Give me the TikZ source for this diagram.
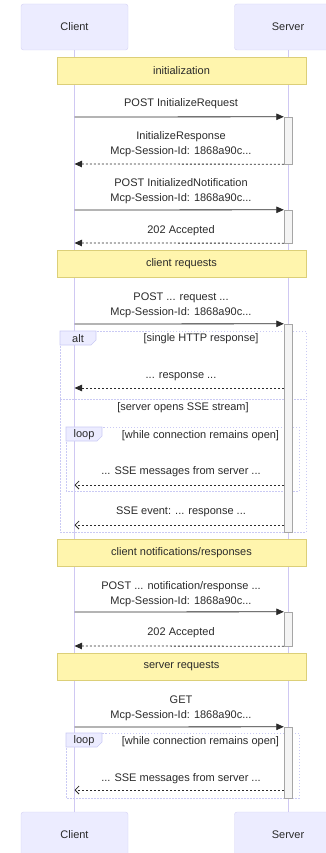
\documentclass[tikz,border=0pt]{standalone}
\usepackage{fontspec}
\setmainfont{Liberation Sans}
\usetikzlibrary{positioning,calc,arrows.meta}

\definecolor{actorfill}{HTML}{ECECFF}
\definecolor{actorline}{HTML}{D3D0F4}
\definecolor{lifeline}{HTML}{CFC8F2}
\definecolor{notefill}{HTML}{FFF5AD}
\definecolor{noteline}{HTML}{DCCF78}
\definecolor{actfill}{HTML}{F4F4F4}
\definecolor{actline}{HTML}{A6A6A6}
\definecolor{frameline}{HTML}{CACAF4}
\definecolor{txt}{HTML}{2A2A2A}

\tikzset{
  actor/.style={draw=actorline, fill=actorfill, rounded corners=2.5pt, minimum width=107pt, minimum height=46pt, font=\fontsize{11}{13}\selectfont},
  notebox/.style={draw=noteline, fill=notefill, minimum width=249pt, minimum height=27pt, font=\fontsize{11}{13}\selectfont},
  actbox/.style={draw=actline, fill=actfill, minimum width=8pt, inner sep=0pt},
  lbl/.style={align=center, inner sep=0pt, font=\fontsize{11}{15}\selectfont},
  req/.style={draw=txt, line width=0.8pt, -{Triangle[length=7.5pt,width=6.5pt]}},
  resp/.style={draw=txt, line width=0.8pt, dash pattern=on 2pt off 2pt, -{Triangle[length=7.5pt,width=6.5pt]}},
  async/.style={draw=txt, line width=0.8pt, dash pattern=on 2pt off 2pt, -{Straight Barb[length=4pt,width=8pt]}},
  frame/.style={draw=frameline, line width=0.8pt, dash pattern=on 1.5pt off 1.5pt},
  tab/.style={draw=frameline, fill=actorfill, line width=0.6pt},
}

\begin{document}
\begin{tikzpicture}[x=1pt, y=-1pt, text=txt]
  \useasboundingbox (0,0) rectangle (326,853);

  % actors
  \node[actor] (client) at (74.5,27) {Client};
  \node[actor] (server) at (288,27) {Server};
  \node[actor] (clientb) at (74.5,835) {Client};
  \node[actor] (serverb) at (288,835) {Server};

  % lifelines
  \draw[lifeline, line width=0.8pt] (client.south) -- (clientb.north);
  \draw[lifeline, line width=0.8pt] (server.south) -- (serverb.north);

  % notes
  \node[notebox] (init) at (181.5,70.5) {initialization};
  \node[notebox] (creq) at (181.5,264) {client requests};
  \node[notebox] (cnot) at (181.5,552.5) {client notifications/responses};
  \node[notebox] (sreq) at (181.5,666.5) {server requests};

  % frames
  \draw[frame] (60,331) rectangle (306,532);
  \draw[frame] (60,399) -- (306,399);
  \draw[tab] (60,331) -- (96,331) -- (96,340) -- (91,345) -- (60,345) -- cycle;
  \node[lbl] (altlbl) at (78,338.5) {alt};
  \node[lbl] (altc1) at (201,339) {[single HTTP response]};
  \node[lbl] (altc2) at (183,408) {[server opens SSE stream]};

  \draw[frame] (66,427) rectangle (299,491);
  \draw[tab] (66,427) -- (102,427) -- (102,436) -- (97,441) -- (66,441) -- cycle;
  \node[lbl] (loop1) at (84,434.5) {loop};
  \node[lbl] (loopc1) at (200.5,436) {[while connection remains open]};

  \draw[frame] (66,733) rectangle (299,798);
  \draw[tab] (66,733) -- (102,733) -- (102,742) -- (97,747) -- (66,747) -- cycle;
  \node[lbl] (loop2) at (84,740.5) {loop};
  \node[lbl] (loopc2) at (200.5,742) {[while connection remains open]};

  % activations
  \node[actbox, minimum height=47pt] (act1) at (288,140.5) {};
  \node[actbox, minimum height=33pt] (act2) at (288,226.5) {};
  \node[actbox, minimum height=208pt] (act3) at (288,428) {};
  \node[actbox, minimum height=34pt] (act4) at (288,629) {};
  \node[actbox, minimum height=71pt] (act5) at (288,762.5) {};

  % client side ends
  \coordinate (c1) at (74.5,117);
  \coordinate (c2) at (74.5,164);
  \coordinate (c3) at (74.5,210);
  \coordinate (c4) at (74.5,243);
  \coordinate (c5) at (74.5,324);
  \coordinate (c6) at (74.5,388);
  \coordinate (c7) at (74.5,485);
  \coordinate (c8) at (74.5,525);
  \coordinate (c9) at (74.5,612);
  \coordinate (c10) at (74.5,646);
  \coordinate (c11) at (74.5,727);
  \coordinate (c12) at (74.5,790);

  % messages
  \node[lbl] (m1) at (181,104) {POST InitializeRequest};
  \draw[req] (c1) -- (act1.north west);
  \node[lbl] (m2) at (181,144.5) {InitializeResponse\\Mcp-Session-Id: 1868a90c...};
  \draw[resp] (act1.south west) -- (c2);
  \node[lbl] (m3) at (181,191) {POST InitializedNotification\\Mcp-Session-Id: 1868a90c...};
  \draw[req] (c3) -- (act2.north west);
  \node[lbl] (m4) at (181,230.5) {202 Accepted};
  \draw[resp] (act2.south west) -- (c4);

  \node[lbl] (m5) at (181,305.5) {POST ... request ...\\Mcp-Session-Id: 1868a90c...};
  \draw[req] (c5) -- (act3.north west);
  \node[lbl] (m6) at (181,376.5) {... response ...};
  \draw[resp] (act3.west |- c6) -- (c6);
  \node[lbl] (m7) at (181,472) {... SSE messages from server ...};
  \draw[async] (act3.west |- c7) -- (c7);
  \node[lbl] (m8) at (181,512) {SSE event: ... response ...};
  \draw[async] (act3.west |- c8) -- (c8);

  \node[lbl] (m9) at (181,594) {POST ... notification/response ...\\Mcp-Session-Id: 1868a90c...};
  \draw[req] (c9) -- (act4.north west);
  \node[lbl] (m10) at (181,632.5) {202 Accepted};
  \draw[resp] (act4.south west) -- (c10);

  \node[lbl] (m11) at (181,708) {GET\\Mcp-Session-Id: 1868a90c...};
  \draw[req] (c11) -- (act5.north west);
  \node[lbl] (m12) at (181,779) {... SSE messages from server ...};
  \draw[async] (act5.west |- c12) -- (c12);
\end{tikzpicture}
\end{document}
